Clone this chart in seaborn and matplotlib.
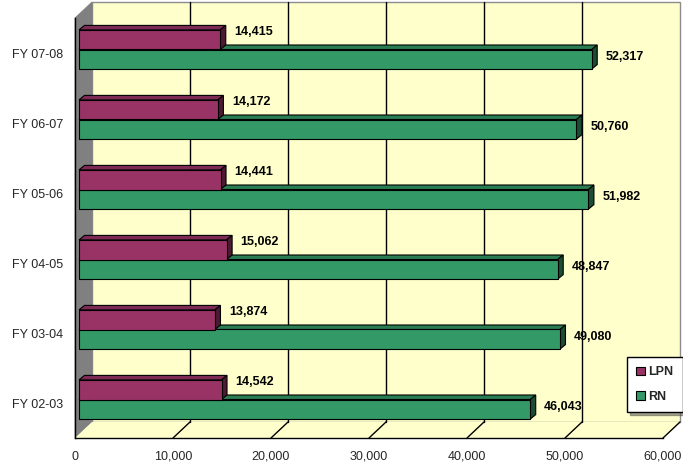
import numpy as np
import pandas as pd
import matplotlib
matplotlib.use("Agg")
import matplotlib.pyplot as plt
import matplotlib.transforms as mtransforms
from matplotlib.patches import Polygon, Patch
from matplotlib.lines import Line2D
import seaborn as sns

# ---------------- data ----------------
years = ["FY 02-03", "FY 03-04", "FY 04-05", "FY 05-06", "FY 06-07", "FY 07-08"]
lpn = [14542, 13874, 15062, 14441, 14172, 14415]
rn = [46043, 49080, 48847, 51982, 50760, 52317]
series = ["LPN", "RN"]
xticks = [0, 10000, 20000, 30000, 40000, 50000, 60000]

df = pd.DataFrame({
    "year": years * 2,
    "series": ["LPN"] * len(years) + ["RN"] * len(years),
    "value": lpn + rn,
})

# ---------------- styling ----------------
sns.set_style("white")
plt.rcParams["font.family"] = ["Liberation Sans", "DejaVu Sans"]

W, H, DPI = 683, 466, 100
front_col = {"LPN": "#993366", "RN": "#339966"}
top_col = {"LPN": "#7d2a55", "RN": "#2a7d52"}
side_col = {"LPN": "#4d1a33", "RN": "#1a4d33"}
wall_col = "#FFFFCC"

DEPTH = (17, 16)      # back wall offset (px)
BSHIFT = (4, 3.5)     # bar front face offset (px)
BDEPTH = (5.5, 4.5)   # bar thickness (px)

fig = plt.figure(figsize=(W / DPI, H / DPI), dpi=DPI)
fig.patch.set_facecolor("white")
L, R, T, B = 75, 663, 18, 438
ax = fig.add_axes([L / W, 1 - B / H, (R - L) / W, (B - T) / H])
ax.set_facecolor("none")

order = years[::-1]
sns.barplot(data=df, x="value", y="year", hue="series", order=order,
            hue_order=series, palette=front_col, orient="h", width=0.56,
            errorbar=None, edgecolor="black", linewidth=0.8, ax=ax,
            saturation=1, legend=False)

ax.set_xlim(0, 60000)
ax.set_ylim(len(years) - 0.5, -0.5)
ax.set_xlabel("")
ax.set_ylabel("")

ident = mtransforms.IdentityTransform()

def fig_px(x, y):
    return (x, H - y)

# ---------- 3D box: back wall, side wall, floor ----------
dx, dy = DEPTH
back = Polygon([fig_px(L + dx, T - dy), fig_px(R + dx, T - dy),
                fig_px(R + dx, B - dy), fig_px(L + dx, B - dy)],
               closed=True, facecolor=wall_col, edgecolor="#8c8c8c",
               linewidth=1.0, transform=ident, zorder=-5)
side = Polygon([fig_px(L, B), fig_px(L, T), fig_px(L + dx, T - dy),
                fig_px(L + dx, B - dy)],
               closed=True, facecolor="#808080", edgecolor="#808080",
               linewidth=0.6, transform=ident, zorder=-4)
floor = Polygon([fig_px(L, B), fig_px(R, B), fig_px(R + dx, B - dy),
                 fig_px(L + dx, B - dy)],
                closed=True, facecolor=wall_col, edgecolor="none",
                transform=ident, zorder=-4)
for p in (back, side, floor):
    fig.add_artist(p)

xa = ax.get_xaxis_transform()
for v in xticks[1:]:
    x0, y0 = xa.transform((v, 0))
    x1, y1 = xa.transform((v, 1))
    if v < xticks[-1]:
        fig.add_artist(Line2D([x0 + dx, x1 + dx], [y0 + dy, y1 + dy],
                              color="black", linewidth=1.0,
                              transform=ident, zorder=-3))
    fig.add_artist(Line2D([x0, x0 + dx], [y0, y0 + dy], color="black",
                          linewidth=1.0, transform=ident, zorder=-3))

# ---------- 3D bars ----------
bx, by = BSHIFT
ddx, ddy = BDEPTH
shift = mtransforms.ScaledTranslation(bx / DPI, by / DPI, fig.dpi_scale_trans)
label_dy = {"LPN": 11.5, "RN": 6.0}
zbase = {"LPN": 4, "RN": 2}
for name, cont in zip(series, ax.containers):
    for patch in cont.patches:
        patch.set_transform(ax.transData + shift)
        patch.set_zorder(zbase[name] + 0.5)
        patch.set_clip_on(False)
        x0, y0 = patch.get_x(), patch.get_y()
        w, h = patch.get_width(), patch.get_height()
        (ax0, ay0) = ax.transData.transform((x0, y0))
        (ax1, ay1) = ax.transData.transform((x0 + w, y0 + h))
        xl, xr = min(ax0, ax1) + bx, max(ax0, ax1) + bx
        yb, yt = min(ay0, ay1) + by, max(ay0, ay1) + by
        topf = Polygon([(xl, yt), (xr, yt), (xr + ddx, yt + ddy),
                        (xl + ddx, yt + ddy)], closed=True,
                       facecolor=top_col[name], edgecolor="black",
                       linewidth=0.8, transform=ident,
                       zorder=zbase[name], clip_on=False)
        sidef = Polygon([(xr, yb), (xr, yt), (xr + ddx, yt + ddy),
                         (xr + ddx, yb + ddy)], closed=True,
                        facecolor=side_col[name], edgecolor="black",
                        linewidth=0.8, transform=ident,
                        zorder=zbase[name], clip_on=False)
        ax.add_patch(topf)
        ax.add_patch(sidef)
        yc = y0 + h / 2
        ax.annotate(f"{int(w):,}", xy=(x0 + w, yc),
                    xytext=(18 * 0.72, label_dy[name] * 0.72),
                    textcoords="offset points", ha="left", va="center",
                    fontsize=9, fontweight="bold", color="black",
                    annotation_clip=False, zorder=6)

# ---------- axes ----------
for s in ("top", "right"):
    ax.spines[s].set_visible(False)
for s in ("left", "bottom"):
    ax.spines[s].set_color("black")
    ax.spines[s].set_linewidth(1.0)
    ax.spines[s].set_zorder(1)

ax.set_xticks(xticks)
ax.set_xticklabels([f"{v:,}" for v in xticks])
ax.tick_params(axis="x", which="major", direction="out", length=4.3,
               width=1, color="black", labelsize=9, pad=5)
ax.set_yticks(range(len(order)))
ax.set_yticklabels(order)
ax.set_yticks(np.arange(-0.5, len(order), 1.0), minor=True)
ax.tick_params(axis="y", which="major", length=0, labelsize=9, pad=8.6)
ax.tick_params(axis="y", which="minor", direction="out", length=5.8,
               width=1, color="black")
for lbl in ax.get_yticklabels():
    lbl.set_y(lbl.get_position()[1])
ax.grid(False)

# ---------- legend ----------
handles = [Patch(facecolor=front_col[s], edgecolor="black", linewidth=0.8)
           for s in series]
leg = fig.legend(handles, series, loc="upper left",
                 bbox_to_anchor=(627 / W, 1 - 357 / H),
                 frameon=True, fancybox=False, shadow=True,
                 prop={"size": 9, "weight": "bold"},
                 handlelength=0.65, handleheight=0.65, handletextpad=0.3,
                 labelspacing=1.0, borderpad=0.75, borderaxespad=0)
leg.get_frame().set_edgecolor("black")
leg.get_frame().set_linewidth(1.0)
leg.set_zorder(10)

fig.savefig("out.png", dpi=DPI, facecolor="white")
